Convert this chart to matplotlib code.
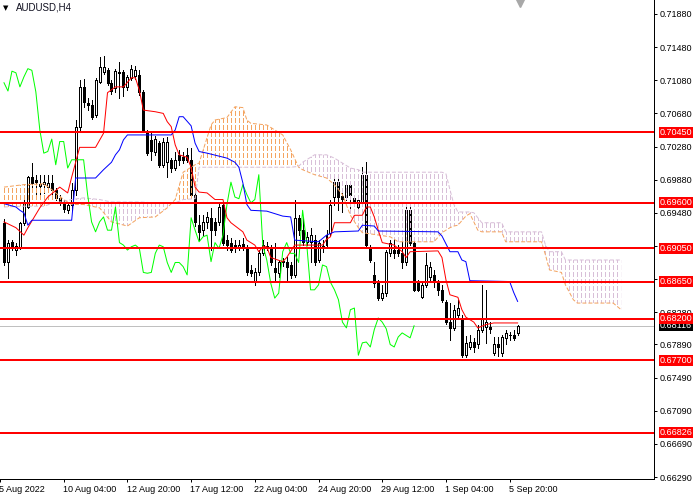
from __future__ import annotations

import matplotlib

matplotlib.use("Agg")

import matplotlib.pyplot as plt
import numpy as np
from matplotlib.path import Path

# AUDUSD H4 candles, bar 0 = left edge of the window
OPEN = [
    0.6936, 0.6888, 0.6913, 0.6903, 0.6907, 0.6936, 0.6955, 0.6991, 0.6988, 0.6983,
    0.6983, 0.6979, 0.6984, 0.6976, 0.6966, 0.6961, 0.6951, 0.6958, 0.6976, 0.7052,
    0.7100, 0.7081, 0.7078, 0.7066, 0.7106, 0.7118, 0.7120, 0.7105, 0.7099, 0.7118,
    0.7118, 0.7100, 0.7111, 0.7113, 0.7114, 0.7094, 0.7046, 0.7036, 0.7021, 0.7032,
    0.7006, 0.7009, 0.7012, 0.7002, 0.7018, 0.7015, 0.7018, 0.7012, 0.6970, 0.6933,
    0.6927, 0.6937, 0.6942, 0.6937, 0.6937, 0.6958, 0.6915, 0.6912, 0.6909, 0.6907,
    0.6910, 0.6905, 0.6879, 0.6864, 0.6876, 0.6899, 0.6908, 0.6905, 0.6881, 0.6875,
    0.6890, 0.6889, 0.6885, 0.6873, 0.6942, 0.6927, 0.6913, 0.6913, 0.6915, 0.6891,
    0.6908, 0.6909, 0.6924, 0.6967, 0.6985, 0.6968, 0.6967, 0.6982, 0.6966, 0.6955,
    0.6961, 0.6994, 0.6905, 0.6873, 0.6863, 0.6845, 0.6851, 0.6899, 0.6903, 0.6903,
    0.6899, 0.6888, 0.6951, 0.6912, 0.6863, 0.6846, 0.6861, 0.6870, 0.6873, 0.6863,
    0.6855, 0.6840, 0.6816, 0.6809, 0.6825, 0.6821, 0.6776, 0.6786, 0.6792, 0.6789,
    0.6807, 0.6810, 0.6810, 0.6779, 0.6789, 0.6779, 0.6797, 0.6801, 0.6801, 0.6803,
]
HIGH = [
    0.6941, 0.6915, 0.6915, 0.6912, 0.6937, 0.6967, 0.6993, 0.7008, 0.6994, 0.6994,
    0.6994, 0.6994, 0.6994, 0.6978, 0.6970, 0.6964, 0.6960, 0.6984, 0.7060, 0.7108,
    0.7110, 0.7087, 0.7084, 0.7111, 0.7136, 0.7137, 0.7123, 0.7108, 0.7122, 0.7130,
    0.7120, 0.7114, 0.7126, 0.7125, 0.7120, 0.7096, 0.7048, 0.7044, 0.7041, 0.7035,
    0.7038, 0.7040, 0.7014, 0.7021, 0.7024, 0.7021, 0.7026, 0.7026, 0.6973, 0.6945,
    0.6945, 0.6949, 0.6954, 0.6942, 0.6960, 0.6961, 0.6921, 0.6918, 0.6915, 0.6915,
    0.6918, 0.6909, 0.6885, 0.6881, 0.6903, 0.6915, 0.6913, 0.6909, 0.6912, 0.6891,
    0.6894, 0.6895, 0.6889, 0.6964, 0.6945, 0.6943, 0.6925, 0.6930, 0.6921, 0.6915,
    0.6915, 0.6927, 0.6964, 0.6989, 0.6990, 0.6976, 0.6984, 0.6984, 0.6970, 0.6970,
    0.7003, 0.7009, 0.6909, 0.6888, 0.6867, 0.6861, 0.6903, 0.6915, 0.6919, 0.6909,
    0.6919, 0.6955, 0.6958, 0.6915, 0.6867, 0.6864, 0.6899, 0.6889, 0.6879, 0.6867,
    0.6861, 0.6843, 0.6839, 0.6837, 0.6843, 0.6825, 0.6799, 0.6801, 0.6797, 0.6813,
    0.6861, 0.6855, 0.6816, 0.6798, 0.6798, 0.6801, 0.6807, 0.6804, 0.6807, 0.6813,
]
LOW = [
    0.6885, 0.6869, 0.6903, 0.6897, 0.6904, 0.6933, 0.6954, 0.6976, 0.6967, 0.6967,
    0.6972, 0.6973, 0.6966, 0.6964, 0.6958, 0.6949, 0.6948, 0.6951, 0.6970, 0.7048,
    0.7076, 0.7072, 0.7061, 0.7064, 0.7105, 0.7116, 0.7102, 0.7091, 0.7094, 0.7087,
    0.7089, 0.7096, 0.7108, 0.7110, 0.7090, 0.7046, 0.7018, 0.7012, 0.7018, 0.7003,
    0.7003, 0.6991, 0.6997, 0.7000, 0.7006, 0.7008, 0.7009, 0.6967, 0.6932, 0.6915,
    0.6921, 0.6930, 0.6903, 0.6921, 0.6933, 0.6909, 0.6903, 0.6901, 0.6901, 0.6903,
    0.6903, 0.6873, 0.6872, 0.6861, 0.6873, 0.6897, 0.6903, 0.6885, 0.6867, 0.6870,
    0.6884, 0.6867, 0.6869, 0.6870, 0.6921, 0.6909, 0.6909, 0.6889, 0.6885, 0.6889,
    0.6901, 0.6905, 0.6921, 0.6958, 0.6951, 0.6949, 0.6964, 0.6951, 0.6956, 0.6951,
    0.6958, 0.6905, 0.6889, 0.6858, 0.6843, 0.6843, 0.6848, 0.6896, 0.6894, 0.6896,
    0.6881, 0.6885, 0.6909, 0.6853, 0.6853, 0.6845, 0.6858, 0.6867, 0.6858, 0.6849,
    0.6840, 0.6814, 0.6795, 0.6807, 0.6821, 0.6774, 0.6774, 0.6783, 0.6780, 0.6785,
    0.6804, 0.6791, 0.6803, 0.6776, 0.6775, 0.6775, 0.6789, 0.6795, 0.6795, 0.6801,
]
CLOSE = [
    0.6888, 0.6912, 0.6907, 0.6908, 0.6936, 0.6960, 0.6991, 0.6984, 0.6985, 0.6980,
    0.6985, 0.6984, 0.6976, 0.6966, 0.6961, 0.6953, 0.6958, 0.6976, 0.7052, 0.7100,
    0.7082, 0.7078, 0.7064, 0.7108, 0.7124, 0.7124, 0.7105, 0.7095, 0.7119, 0.7117,
    0.7100, 0.7112, 0.7122, 0.7120, 0.7094, 0.7048, 0.7020, 0.7022, 0.7037, 0.7006,
    0.7034, 0.7034, 0.7002, 0.7012, 0.7012, 0.7012, 0.7012, 0.6970, 0.6937, 0.6925,
    0.6937, 0.6943, 0.6927, 0.6927, 0.6955, 0.6912, 0.6909, 0.6903, 0.6907, 0.6909,
    0.6905, 0.6876, 0.6875, 0.6876, 0.6899, 0.6909, 0.6907, 0.6888, 0.6876, 0.6888,
    0.6888, 0.6883, 0.6873, 0.6942, 0.6927, 0.6913, 0.6919, 0.6921, 0.6889, 0.6912,
    0.6905, 0.6921, 0.6958, 0.6985, 0.6967, 0.6965, 0.6982, 0.6970, 0.6960, 0.6964,
    0.6994, 0.6909, 0.6891, 0.6863, 0.6845, 0.6851, 0.6901, 0.6912, 0.6899, 0.6899,
    0.6888, 0.6951, 0.6912, 0.6855, 0.6855, 0.6861, 0.6885, 0.6883, 0.6864, 0.6855,
    0.6843, 0.6816, 0.6809, 0.6831, 0.6833, 0.6776, 0.6791, 0.6792, 0.6786, 0.6807,
    0.6821, 0.6816, 0.6808, 0.6789, 0.6786, 0.6798, 0.6803, 0.6800, 0.6797, 0.68116,
]

# Ichimoku lines (bar index, price)
TENKAN_BARS = [0, 3, 5, 6, 9, 11, 14, 16, 17, 19, 23, 25, 26, 28, 30, 32, 33, 34, 35, 38,
               40, 41, 42, 43, 44, 46, 47, 48, 49, 51, 53, 55, 56, 57, 60, 61, 63, 64, 65, 66,
               67, 70, 71, 73, 80, 81, 82, 83, 87, 88, 90, 91, 92, 93, 94, 95, 98, 100, 101, 102,
               109, 110, 111, 112, 114, 115, 116, 118, 119, 121, 123, 129]
TENKAN = [0.6937, 0.6930, 0.6921, 0.6930, 0.6954, 0.6967, 0.6979, 0.6972, 0.6991, 0.7027,
          0.7027, 0.7044, 0.7093, 0.7100, 0.7100, 0.7111, 0.7111, 0.7096, 0.7072, 0.7070,
          0.7068, 0.7058, 0.7052, 0.7030, 0.7018, 0.7015, 0.7003, 0.6979, 0.6973, 0.6972,
          0.6964, 0.6964, 0.6942, 0.6936, 0.6925, 0.6915, 0.6909, 0.6901, 0.6907, 0.6907,
          0.6894, 0.6889, 0.6894, 0.6909, 0.6909, 0.6916, 0.6919, 0.6936, 0.6936, 0.6945,
          0.6945, 0.6955, 0.6955, 0.6943, 0.6927, 0.6912, 0.6909, 0.6901, 0.6894, 0.6901,
          0.6902, 0.6894, 0.6867, 0.6849, 0.6846, 0.6831, 0.6822, 0.6816, 0.6809, 0.6813,
          0.6815, 0.6815]
KIJUN_BARS = [0, 3, 4, 5, 6, 7, 17, 18, 23, 25, 27, 28, 29, 30, 31, 42, 43, 44, 45, 47,
              48, 49, 51, 56, 58, 59, 60, 61, 62, 66, 70, 72, 73, 79, 81, 83, 89, 90, 93, 94,
              109, 110, 112, 114, 115, 116, 117, 127, 128, 129]
KIJUN = [0.6959, 0.6955, 0.6951, 0.6948, 0.6933, 0.6939, 0.6939, 0.6990, 0.6990, 0.7000,
         0.7009, 0.7018, 0.7024, 0.7036, 0.7042, 0.7042, 0.7048, 0.7064, 0.7064, 0.7053,
         0.7032, 0.7022, 0.7020, 0.7014, 0.7009, 0.7003, 0.6984, 0.6958, 0.6951, 0.6950,
         0.6944, 0.6943, 0.6915, 0.6913, 0.6921, 0.6925, 0.6926, 0.6933, 0.6932, 0.6926,
         0.6925, 0.6920, 0.6901, 0.6901, 0.6891, 0.6889, 0.6866, 0.6865, 0.6852, 0.6841]
CLOUD_BARS = [0, 5, 10, 12, 15, 17, 20, 24, 27, 31, 34, 38, 41, 43, 45, 48, 49, 52, 53, 56,
              58, 60, 61, 62, 66, 70, 72, 74, 75, 78, 81, 83, 85, 87, 89, 90, 97, 99, 108, 110,
              111, 112, 113, 114, 116, 117, 118, 119, 120, 125, 126, 135, 136, 137, 140, 141, 143, 144, 153, 155]
SPAN_A = [0.6979, 0.6982, 0.6983, 0.6976, 0.6964, 0.6958, 0.6958, 0.6954, 0.6937, 0.6932,
          0.6942, 0.6943, 0.6954, 0.6964, 0.6997, 0.7006, 0.7008, 0.7054, 0.7060, 0.7063,
          0.7076, 0.7075, 0.7060, 0.7056, 0.7054, 0.7042, 0.7024, 0.7003, 0.7000, 0.6994,
          0.6990, 0.6982, 0.6970, 0.6945, 0.6930, 0.6924, 0.6919, 0.6913, 0.6913, 0.6924,
          0.6927, 0.6930, 0.6932, 0.6933, 0.6944, 0.6947, 0.6937, 0.6927, 0.6925, 0.6925,
          0.6913, 0.6913, 0.6897, 0.6879, 0.6876, 0.6861, 0.6843, 0.6839, 0.6839, 0.6831]
SPAN_B = [0.6955, 0.6956, 0.6956, 0.6959, 0.6962, 0.6964, 0.6966, 0.6964, 0.6961, 0.6961,
          0.6961, 0.6960, 0.6960, 0.6960, 0.6964, 0.6965, 0.7003, 0.7003, 0.7003, 0.7003,
          0.7003, 0.7003, 0.7003, 0.7003, 0.7003, 0.7003, 0.7003, 0.7004, 0.7009, 0.7018,
          0.7018, 0.7014, 0.7008, 0.7002, 0.7000, 0.6997, 0.6997, 0.6997, 0.6997, 0.6997,
          0.6995, 0.6976, 0.6958, 0.6949, 0.6949, 0.6949, 0.6948, 0.6942, 0.6936, 0.6936,
          0.6925, 0.6925, 0.6909, 0.6901, 0.6901, 0.6891, 0.6891, 0.6891, 0.6891, 0.6891]
CHIKOU_SHIFT = 26

LEVELS = [0.70450, 0.69600, 0.69050, 0.68650, 0.68200, 0.67700, 0.66826]
LAST_PRICE = 0.68116
PRICE_TICKS = [0.71880, 0.71480, 0.71080, 0.70680, 0.70280, 0.69880, 0.69480, 0.69080,
               0.68680, 0.68280, 0.67890, 0.67490, 0.67090, 0.66690, 0.66290]
TIME_TICK_BARS = [-1, 15, 31, 47, 63, 79, 95, 111, 127]
TIME_TICK_LABELS = ["5 Aug 2022", "10 Aug 04:00", "12 Aug 20:00", "17 Aug 12:00", "22 Aug 04:00",
                    "24 Aug 20:00", "29 Aug 12:00", "1 Sep 04:00", "5 Sep 20:00"]
SYMBOL = "AUDUSD,H4"

SANDY = "#f4a460"
THISTLE = "#d8bfd8"
PX = 0.72  # one screen pixel in points at dpi 100
LW = 0.55  # aliased, renders as one pixel
FS = 6.5


def draw_cloud(ax, ylo: float, yhi: float) -> None:
    xs = np.array(CLOUD_BARS, dtype=float)
    a = np.array(SPAN_A)
    b = np.array(SPAN_B)
    hatch_x = np.arange(CLOUD_BARS[0], CLOUD_BARS[-1] + 1)
    for mask, color in ((a >= b, SANDY), (a <= b, THISTLE)):
        poly = ax.fill_between(xs, a, b, where=mask, interpolate=True,
                               facecolor="none", edgecolor="none", linewidth=0)
        clip = Path.make_compound_path(*poly.get_paths())
        hatch = ax.vlines(hatch_x, ylo, yhi, colors=color, linewidth=LW,
                          linestyles=[(0, (6, 3))], antialiased=False, zorder=5)
        hatch.set_clip_path(clip, ax.transData)
    ax.plot(xs, a, color=SANDY, lw=PX, ls=(0, (4, 2)), zorder=5)
    ax.plot(xs, b, color=THISTLE, lw=PX, ls=(0, (4, 2)), zorder=5)


def draw_candles(ax) -> None:
    x = np.arange(len(CLOSE))
    o, h, l, c = (np.array(v) for v in (OPEN, HIGH, LOW, CLOSE))
    up = c >= o
    ax.vlines(x, l, h, colors="black", linewidth=LW, antialiased=False, zorder=3)
    ax.bar(x[up], (c - o)[up], bottom=o[up], width=0.5, facecolor="white",
           edgecolor="black", linewidth=LW, antialiased=False, zorder=4)
    ax.bar(x[~up], (o - c)[~up], bottom=c[~up], width=0.5, facecolor="black",
           edgecolor="black", linewidth=LW, antialiased=False, zorder=4)


def price_tag(ax, price: float, face: str, z: int) -> None:
    ax.annotate(f"{price:.5f}", xy=(1, price), xycoords=("axes fraction", "data"),
                xytext=(4.0, 0), textcoords="offset points", ha="left", va="center",
                fontsize=FS, color="white", annotation_clip=False, zorder=z,
                bbox=dict(boxstyle="square,pad=0.1", facecolor=face, edgecolor="none"))


def main() -> None:
    plt.rcParams["font.family"] = ["Liberation Sans", "DejaVu Sans"]
    fig = plt.figure(figsize=(7, 5), dpi=100)
    ax = fig.add_axes([0, 21 / 500, 654 / 700, 479 / 500])
    ylo, yhi = 0.66266, 0.72049
    ax.set_xlim(-0.25, 163.25)
    ax.set_ylim(ylo, yhi)

    draw_candles(ax)
    draw_cloud(ax, ylo, yhi)

    close = np.array(CLOSE)
    bars = np.arange(len(close))
    ax.plot(bars[:-CHIKOU_SHIFT], close[CHIKOU_SHIFT:], color="#00ff00", lw=PX, zorder=6)
    ax.plot(TENKAN_BARS, TENKAN, color="#ff0000", lw=PX, zorder=7)
    ax.plot(KIJUN_BARS, KIJUN, color="#0000ff", lw=PX, zorder=7)

    ax.axhline(LAST_PRICE, color="#c0c0c0", lw=LW, antialiased=False, zorder=2)
    for level in LEVELS:
        ax.axhline(level, color="#ff0000", lw=2 * PX, antialiased=False, zorder=8)

    for side in ("left", "top"):
        ax.spines[side].set_visible(False)
    for side in ("right", "bottom"):
        ax.spines[side].set_linewidth(PX)
    ax.yaxis.tick_right()
    ax.set_yticks(PRICE_TICKS)
    ax.set_yticklabels([f"{t:.5f}" for t in PRICE_TICKS])
    ax.tick_params(axis="y", direction="out", length=2.2, width=PX, pad=1.5, labelsize=FS)
    ax.set_xticks(TIME_TICK_BARS)
    ax.set_xticklabels([])
    ax.tick_params(axis="x", direction="out", length=2.2, width=PX)
    for bar, label in zip(TIME_TICK_BARS, TIME_TICK_LABELS):
        ax.annotate(label, xy=(bar, 0), xycoords=("data", "axes fraction"),
                    xytext=(-0.6, -4.0), textcoords="offset points", ha="left", va="top",
                    fontsize=FS, annotation_clip=False)

    price_tag(ax, LAST_PRICE, "#000000", 19)
    for level in LEVELS:
        price_tag(ax, level, "#ff0000", 20)

    fig.text(3 / 700, 1 - 8 / 500, "\u25bc", fontsize=5, va="center", family="DejaVu Sans")
    fig.text(16 / 700, 1 - 8 / 500, SYMBOL, fontsize=7, va="center", color="#101020")
    ax.plot([520 / 654], [1 - 3 / 479], marker="v", markersize=6, color="#a8a8a8",
            transform=ax.transAxes, clip_on=False, zorder=9)

    fig.savefig("out.png", dpi=100)
    plt.close(fig)


if __name__ == "__main__":
    main()
